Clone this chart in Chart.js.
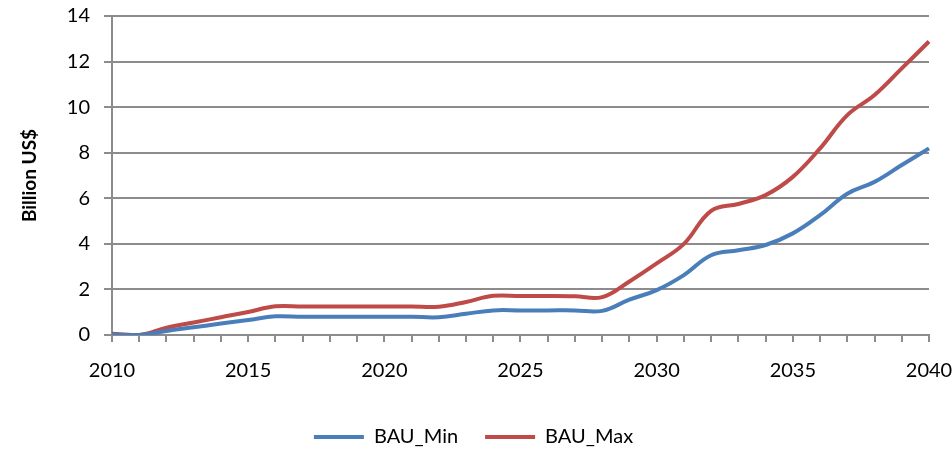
<!DOCTYPE html>
<html>
<head>
<meta charset="utf-8">
<script src="https://cdn.jsdelivr.net/npm/chart.js@4"></script>
<style>
  html, body { margin: 0; padding: 0; background: #fff; }
  #wrap { width: 952px; height: 453px; }
</style>
</head>
<body>
<div id="wrap"><canvas id="bauChart" width="952" height="453"></canvas></div>
<script>
// years on the x axis
const years = [2010, 2011, 2012, 2013, 2014, 2015, 2016, 2017, 2018, 2019, 2020,
               2021, 2022, 2023, 2024, 2025, 2026, 2027, 2028, 2029, 2030,
               2031, 2032, 2033, 2034, 2035, 2036, 2037, 2038, 2039, 2040];

// Billion US$
const bauMin = [0.02, 0.0, 0.18, 0.34, 0.5, 0.66, 0.82, 0.8, 0.8, 0.8, 0.8,
                0.8, 0.78, 0.93, 1.08, 1.08, 1.08, 1.08, 1.06, 1.55, 1.97,
                2.63, 3.5, 3.72, 3.95, 4.46, 5.26, 6.2, 6.72, 7.46, 8.19];
const bauMax = [0.05, 0.0, 0.32, 0.55, 0.78, 1.01, 1.26, 1.25, 1.25, 1.25, 1.25,
                1.25, 1.24, 1.45, 1.72, 1.71, 1.71, 1.7, 1.66, 2.35, 3.14,
                4.0, 5.45, 5.75, 6.14, 6.94, 8.19, 9.65, 10.53, 11.7, 12.88];

const yTicks = [0, 2, 4, 6, 8, 10, 12, 14];

const gridColor = '#8c8c8c';
const fontFam = 'Lato, "Open Sans", sans-serif';

const ctx = document.getElementById('bauChart').getContext('2d');
const bauChart = new Chart(ctx, {
    type: 'line',
    data: {
        labels: years.map(String),
        datasets: [{
            label: 'BAU_Min',
            data: bauMin,
            borderColor: '#4a7ebb',
            backgroundColor: '#4a7ebb',
            borderWidth: 4,
            pointRadius: 0,
            tension: 0.4
        }, {
            label: 'BAU_Max',
            data: bauMax,
            borderColor: '#be4b48',
            backgroundColor: '#be4b48',
            borderWidth: 4,
            pointRadius: 0,
            tension: 0.4
        }]
    },
    options: {
        responsive: false,
        animation: false,
        layout: { padding: { left: 18, right: 23, top: 16, bottom: -4 } },
        scales: {
            x: {
                offset: false,
                afterFit: function(axis) {
                    // let the layout padding decide the plot edges
                    axis.paddingLeft = 0;
                    axis.paddingRight = 0;
                },
                grid: {
                    drawOnChartArea: false,
                    drawTicks: true,
                    tickLength: 7,
                    color: gridColor,
                    lineWidth: 2
                },
                border: { color: gridColor, width: 2 },
                ticks: {
                    autoSkip: false,
                    maxRotation: 0,
                    padding: 17,
                    color: '#000',
                    font: { family: fontFam, size: 20 },
                    callback: function(value, index) {
                        return years[index] % 5 === 0 ? String(years[index]) : '';
                    }
                }
            },
            y: {
                min: 0,
                max: 14,
                afterBuildTicks: function(axis) {
                    axis.ticks = yTicks.map(v => ({ value: v }));
                },
                afterFit: function(axis) {
                    axis.paddingTop = 0;
                    axis.paddingBottom = 0;
                },
                grid: {
                    color: gridColor,
                    lineWidth: 2,
                    tickLength: 8
                },
                border: { color: gridColor, width: 2 },
                ticks: {
                    padding: 14,
                    color: '#000',
                    font: { family: fontFam, size: 20 }
                },
                title: {
                    display: true,
                    text: 'Billion US$',
                    color: '#000',
                    padding: { top: 0, bottom: 12 },
                    font: { family: fontFam, size: 19, weight: 'bold' }
                }
            }
        },
        plugins: {
            legend: {
                position: 'bottom',
                labels: {
                    usePointStyle: true,
                    pointStyle: 'line',
                    pointStyleWidth: 50,
                    color: '#000',
                    padding: 27,
                    font: { family: fontFam, size: 20 }
                }
            },
            tooltip: { enabled: false }
        }
    }
});
</script>
</body>
</html>
